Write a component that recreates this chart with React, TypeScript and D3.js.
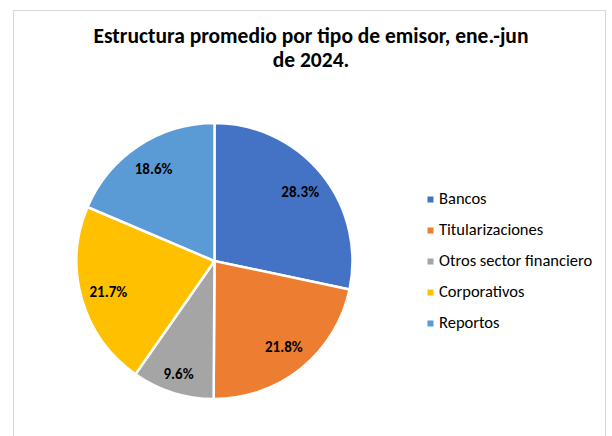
import * as d3 from 'd3';

const categories = ['Bancos', 'Titularizaciones', 'Otros sector financiero', 'Corporativos', 'Reportos'];
const shares = [28.3, 21.8, 9.6, 21.7, 18.6];
const colors = ['#4472C4', '#ED7D31', '#A5A5A5', '#FFC000', '#5B9BD5'];
const titleLines = ['Estructura promedio por tipo de emisor, ene.-jun', 'de 2024.'];

const width = 612;
const height = 436;
const font = "Calibri, Carlito, 'Liberation Sans', Arial, sans-serif";

const App = () => {
  const cx = 214.5;
  const cy = 261;
  const radius = 138;

  const data = categories.map((name, i) => ({ name, value: shares[i], color: colors[i] }));
  type Slice = (typeof data)[number];

  // keep source order, clockwise from 12 o'clock
  const pie = d3.pie<Slice>().sort(null).value(d => d.value);
  const arcs = pie(data);
  const arc = d3.arc<d3.PieArcDatum<Slice>>().innerRadius(0).outerRadius(radius);
  // small slices push their label further out, like Excel's best fit
  const labelPos = (d: d3.PieArcDatum<Slice>) => {
    const r = radius * (d.data.value < 12 ? 0.86 : 0.8);
    return d3.arc<d3.PieArcDatum<Slice>>().innerRadius(r).outerRadius(r).centroid(d);
  };

  const legendY = d3.scalePoint<string>().domain(categories).range([199.5, 323.5]);

  return (
    <svg width={width} height={height} style={{ position: 'absolute', left: 0, top: 0, fontFamily: font }}>
      <rect x={0} y={0} width={width} height={height} fill="#fff" />
      <rect x={13.5} y={10.5} width={592} height={440} fill="#fff" stroke="#D9D9D9" strokeWidth={1} />

      {titleLines.map((line, i) => (
        <text key={i} x={311} y={43 + i * 24} textAnchor="middle" fontSize={21.5} fontWeight="bold" fill="#000">
          {line}
        </text>
      ))}

      <g transform={`translate(${cx},${cy})`}>
        {arcs.map(d => (
          <path key={d.data.name} d={arc(d) ?? ''} fill={d.data.color} stroke="#fff" strokeWidth={2.5} />
        ))}
        {arcs.map(d => {
          const [x, y] = labelPos(d);
          return (
            <text
              key={`l-${d.data.name}`}
              x={x}
              y={y}
              dy="0.35em"
              textAnchor="middle"
              fontSize={15}
              fontWeight="bold"
              fill="#000"
            >
              {`${d.data.value.toFixed(1)}%`}
            </text>
          );
        })}
      </g>

      {data.map(d => (
        <g key={`lg-${d.name}`} transform={`translate(430.5,${legendY(d.name)})`}>
          <rect x={-3} y={-3} width={6} height={6} fill={d.color} />
          <text x={8.5} y={4.5} fontSize={16.5} fill="#000">
            {d.name}
          </text>
        </g>
      ))}
    </svg>
  );
};

export default App;
